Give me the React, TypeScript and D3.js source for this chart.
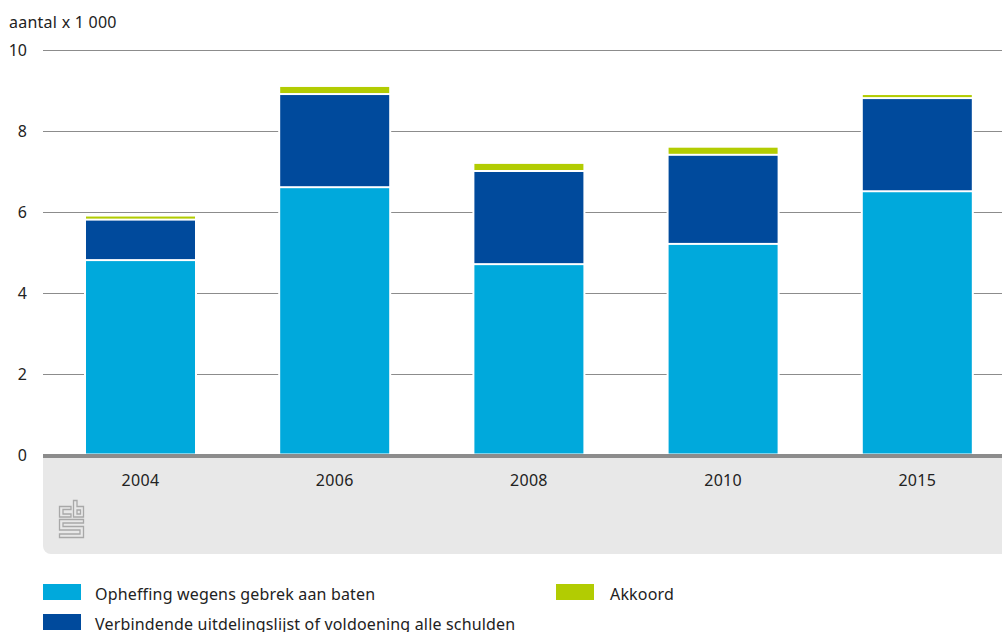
import React from "react";
import * as d3 from "d3";

const categories = ["2004", "2006", "2008", "2010", "2015"];
const opheffing = [4.8, 6.6, 4.7, 5.2, 6.5];
const verbindende = [1.0, 2.3, 2.3, 2.2, 2.3];
const akkoord = [0.1, 0.2, 0.2, 0.2, 0.1];
const yTicks = [0, 2, 4, 6, 8, 10];
const seriesNames = ["Opheffing wegens gebrek aan baten", "Verbindende uitdelingslijst of voldoening alle schulden", "Akkoord"];
const seriesColors = ["#00a9dc", "#004a9c", "#b2cc02"];
const yTitle = "aantal x 1 000";

const FONT = "'Noto Sans', sans-serif";
const TEXT = "#222";

export default function App() {
  const y = d3.scaleLinear().domain([0, 10]).range([455.5, 50.5]);
  const x = d3.scaleBand<string>().domain(categories).range([43, 1014.8]).paddingInner(0.4387).paddingOuter(0.2214);
  const rows = categories.map((c, i) => ({ c, a: opheffing[i], b: verbindende[i], d: akkoord[i] }));
  const stacked = d3.stack<any>().keys(["a", "b", "d"])(rows);
  return (
    <svg width={1002} height={632} style={{ position: "absolute", left: 0, top: 0, fontFamily: FONT }}>
      <path d="M43,455 H1002 V554 H51 a8,8 0 0 1 -8,-8 Z" fill="#e8e8e8" />
      <text x={9} y={28} fontSize={16} letterSpacing={0.25} fill={TEXT}>{yTitle}</text>
      {yTicks.map((t) => (
        <g key={t}>
          {t > 0 && <line x1={43} x2={1002} y1={y(t)} y2={y(t)} stroke="#8c8c8c" strokeWidth={1} />}
          <text x={27} y={y(t) + 5.5} fontSize={16} textAnchor="end" fill={TEXT}>{t}</text>
        </g>
      ))}
      {categories.map((c, i) => (
        <rect
          key={c}
          x={x(c)! - 2}
          width={x.bandwidth() + 4}
          y={y(stacked[2][i][1]) - 1}
          height={y(0) - y(stacked[2][i][1]) + 1}
          fill="#fff"
        />
      ))}
      {stacked.map((s, si) => (
        <g key={si}>
          {s.map((d, i) => (
            <rect
              key={i}
              x={x(categories[i])}
              width={x.bandwidth()}
              y={y(d[1])}
              height={y(d[0]) - y(d[1]) - 2}
              fill={seriesColors[si]}
            />
          ))}
        </g>
      ))}
      <rect x={43} y={454} width={959} height={4} fill="#8c8c8c" />
      {categories.map((c) => (
        <text key={c} x={x(c)! + x.bandwidth() / 2} y={486} fontSize={16} letterSpacing={0.3} textAnchor="middle" fill={TEXT}>{c}</text>
      ))}
      <g fill="none" stroke="#a8a8a8" strokeWidth={1.3}>
        <path d="M59.5,506.5 H71 V509.5 H63 V514 H71 V517 H59.5 Z" />
        <path d="M73.5,500.5 H77 V506.5 H83.5 V517 H73.5 Z M77,510 H80.5 V514 H77 Z" />
        <path d="M59.5,519.5 H83.5 V523 H63 V526.5 H83.5 V537.5 H59.5 V534 H80 V530 H59.5 Z" />
      </g>
      <rect x={43} y={584} width={38} height={16} fill={seriesColors[0]} />
      <text x={95} y={600} fontSize={16} letterSpacing={0.17} fill={TEXT}>{seriesNames[0]}</text>
      <rect x={43} y={614} width={38} height={16} fill={seriesColors[1]} />
      <text x={95} y={630} fontSize={16} letterSpacing={0.17} fill={TEXT}>{seriesNames[1]}</text>
      <rect x={556} y={584} width={38} height={16} fill={seriesColors[2]} />
      <text x={610} y={600} fontSize={16} letterSpacing={0.17} fill={TEXT}>{seriesNames[2]}</text>
    </svg>
  );
}
